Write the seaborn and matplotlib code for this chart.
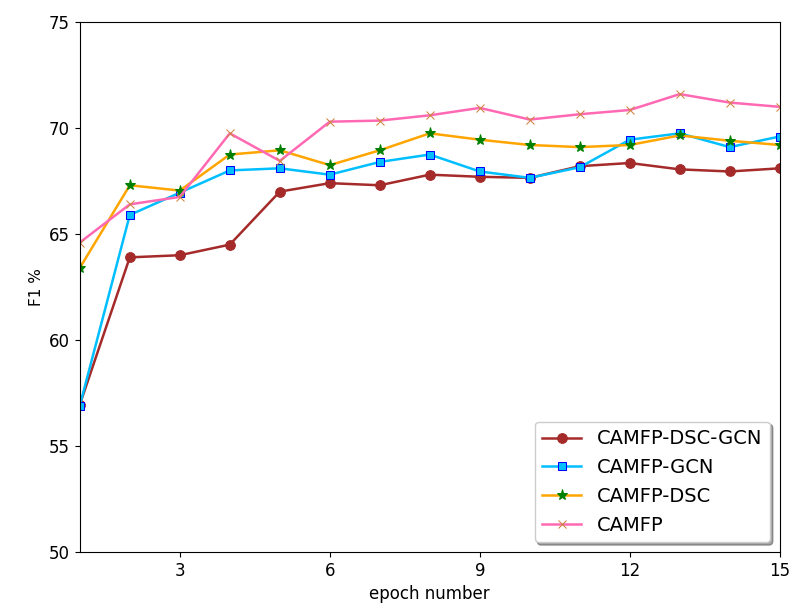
import numpy as np
import pandas as pd
import seaborn as sns
import matplotlib
matplotlib.use("Agg")
import matplotlib.pyplot as plt

epochs = list(range(1, 16))

dsc_gcn = [56.95, 63.9, 64.0, 64.5, 67.0, 67.4, 67.3, 67.8, 67.7, 67.65, 68.2, 68.35, 68.05, 67.95, 68.1]
gcn = [56.9, 65.9, 66.95, 68.0, 68.1, 67.8, 68.4, 68.75, 67.95, 67.65, 68.15, 69.45, 69.75, 69.1, 69.6]
dsc = [63.4, 67.3, 67.05, 68.75, 68.95, 68.25, 68.95, 69.75, 69.45, 69.2, 69.1, 69.2, 69.65, 69.4, 69.2]
camfp = [64.6, 66.4, 66.75, 69.75, 68.45, 70.3, 70.35, 70.6, 70.95, 70.4, 70.65, 70.85, 71.6, 71.2, 71.0]

series_names = ["CAMFP-DSC-GCN", "CAMFP-GCN", "CAMFP-DSC", "CAMFP"]
series_vals = [dsc_gcn, gcn, dsc, camfp]

styles = {
    "CAMFP-DSC-GCN": dict(color="brown", marker="o", markerfacecolor="brown", markeredgecolor="brown", markersize=7),
    "CAMFP-GCN": dict(color="deepskyblue", marker="s", markerfacecolor="deepskyblue", markeredgecolor="blue", markersize=6),
    "CAMFP-DSC": dict(color="orange", marker="*", markerfacecolor="green", markeredgecolor="green", markersize=8),
    "CAMFP": dict(color="hotpink", marker="x", markerfacecolor="peru", markeredgecolor="peru", markersize=6),
}

df = pd.DataFrame({
    "epoch": epochs * len(series_names),
    "f1": sum(series_vals, []),
    "model": sum([[n] * len(epochs) for n in series_names], []),
})

fig, ax = plt.subplots(figsize=(7.9, 6.12), dpi=100)
fig.subplots_adjust(left=0.101, right=0.987, top=0.964, bottom=0.098)

for name in series_names:
    sub = df[df["model"] == name]
    sns.lineplot(data=sub, x="epoch", y="f1", ax=ax, label=name, linewidth=1.8, **styles[name])

ax.set_xlim(1, 15)
ax.set_ylim(50, 75)
ax.set_xticks([3, 6, 9, 12, 15])
ax.set_yticks([50, 55, 60, 65, 70, 75])
ax.tick_params(labelsize=12)
ax.set_xlabel("epoch number", fontsize=12)
ax.set_ylabel("F1 %", fontsize=11)
ax.legend(loc="lower right", fontsize=14, shadow=True, fancybox=True)

plt.savefig("out.png", dpi=100)
